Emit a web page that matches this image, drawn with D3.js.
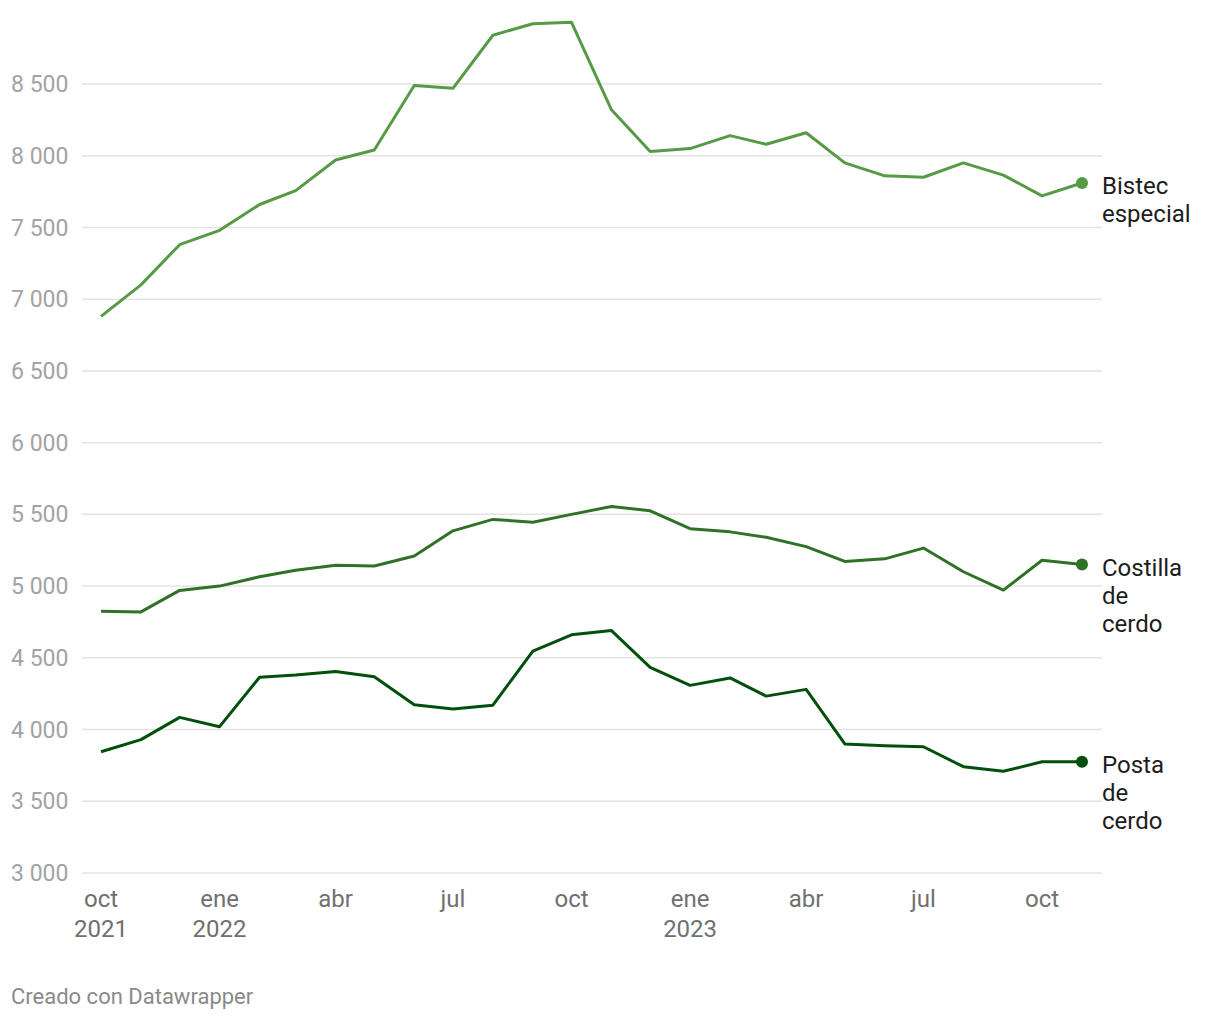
<!DOCTYPE html>
<html>
<head>
<meta charset="utf-8">
<script src="https://cdn.jsdelivr.net/npm/d3@7"></script>
<style>
  body { margin: 0; background: #fff; font-family: Roboto, "Noto Sans", sans-serif; }
  svg text { font-family: Roboto, "Noto Sans", sans-serif; }
</style>
</head>
<body>
<svg id="chart" width="1220" height="1020"></svg>
<script>
// monthly series, oct 2021 .. nov 2023
const months = d3.timeMonths(new Date(2021, 9, 1), new Date(2023, 11, 1));

const bistec = [6880, 7100, 7380, 7480, 7660, 7757, 7970, 8040, 8490, 8470, 8840, 8920, 8930,
                8320, 8030, 8050, 8140, 8080, 8160, 7950, 7860, 7850, 7950, 7865, 7720, 7810];
const costilla = [4824, 4820, 4970, 5000, 5065, 5110, 5146, 5140, 5210, 5385, 5465, 5445, 5500,
                  5555, 5525, 5400, 5378, 5340, 5275, 5172, 5190, 5265, 5100, 4972, 5180, 5150];
const posta = [3845, 3930, 4085, 4020, 4365, 4380, 4405, 4368, 4173, 4143, 4170, 4547, 4660,
               4690, 4433, 4308, 4360, 4233, 4280, 3900, 3887, 3880, 3741, 3709, 3775, 3775];

const seriesNames = [['Bistec', 'especial'], ['Costilla', 'de', 'cerdo'], ['Posta', 'de', 'cerdo']];
const seriesColors = ['#579a45', '#2f7126', '#00500b'];
const seriesValues = [bistec, costilla, posta];

const yTicks = [3000, 3500, 4000, 4500, 5000, 5500, 6000, 6500, 7000, 7500, 8000, 8500];
const xTickDates = [
  new Date(2021, 9, 1), new Date(2022, 0, 1), new Date(2022, 3, 1), new Date(2022, 6, 1),
  new Date(2022, 9, 1), new Date(2023, 0, 1), new Date(2023, 3, 1), new Date(2023, 6, 1),
  new Date(2023, 9, 1)
];
const monthNames = ['ene', 'feb', 'mar', 'abr', 'may', 'jun', 'jul', 'ago', 'sep', 'oct', 'nov', 'dic'];

const svg = d3.select('#chart');

const x = d3.scaleTime()
  .domain([months[0], months[months.length - 1]])
  .range([101, 1082]);
const y = d3.scaleLinear()
  .domain([3000, 8500])
  .range([873, 84]);

// grid lines + y labels
const fmt = v => d3.format(',')(v).replace(',', ' ');
const grid = svg.append('g');
yTicks.forEach(t => {
  grid.append('line')
    .attr('x1', 82).attr('x2', 1102)
    .attr('y1', y(t)).attr('y2', y(t))
    .attr('stroke', '#e3e3e3')
    .attr('stroke-width', 1.5);
  grid.append('text')
    .attr('x', 11)
    .attr('y', y(t))
    .attr('dy', '0.35em')
    .attr('fill', '#a3a3a3')
    .attr('font-size', 23)
    .text(fmt(t));
});

// x labels
const xAxis = svg.append('g');
xTickDates.forEach(d => {
  const t = xAxis.append('text')
    .attr('x', x(d))
    .attr('y', 907)
    .attr('text-anchor', 'middle')
    .attr('fill', '#707070')
    .attr('font-size', 24);
  t.append('tspan').attr('x', x(d)).text(monthNames[d.getMonth()]);
  if (d.getMonth() === 0 || d === xTickDates[0]) {
    t.append('tspan').attr('x', x(d)).attr('dy', 30).text(d.getFullYear());
  }
});

// lines
const line = d3.line()
  .x((d, i) => x(months[i]))
  .y(d => y(d));

seriesValues.forEach((vals, k) => {
  svg.append('path')
    .datum(vals)
    .attr('d', line)
    .attr('fill', 'none')
    .attr('stroke', seriesColors[k])
    .attr('stroke-width', 3)
    .attr('stroke-linejoin', 'round');

  const last = vals[vals.length - 1];
  const lx = x(months[months.length - 1]);
  svg.append('circle')
    .attr('cx', lx)
    .attr('cy', y(last))
    .attr('r', 6)
    .attr('fill', seriesColors[k]);

  const lab = svg.append('text')
    .attr('x', 1102)
    .attr('y', y(last) + 11)
    .attr('fill', '#1d1d1d')
    .attr('font-size', 24);
  seriesNames[k].forEach((w, j) => {
    lab.append('tspan')
      .attr('x', 1102)
      .attr('dy', j === 0 ? 0 : 28)
      .text(w);
  });
});

// footer
svg.append('text')
  .attr('x', 11)
  .attr('y', 1004)
  .attr('fill', '#8a8a8a')
  .attr('font-size', 22)
  .text('Creado con Datawrapper');
</script>
</body>
</html>
